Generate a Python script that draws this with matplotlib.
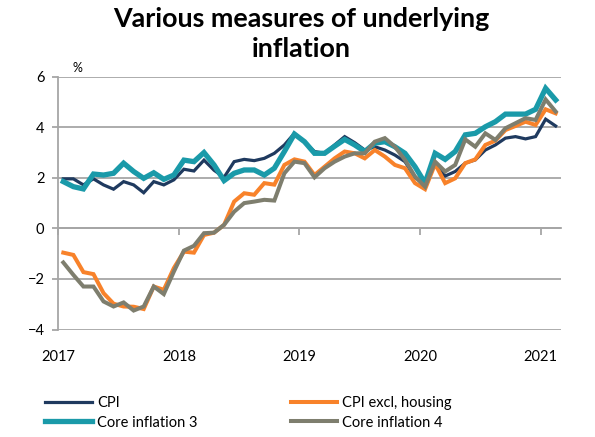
import numpy as np
import matplotlib
matplotlib.use("Agg")
import matplotlib.pyplot as plt

plt.rcParams['font.family'] = ['Lato', 'DejaVu Sans']

# monthly, Jan 2017 - Feb 2021 (%)
cpi = [1.96, 1.96, 1.72, 1.96, 1.72, 1.55, 1.85, 1.72, 1.41, 1.85, 1.72, 1.92,
       2.34, 2.27, 2.70, 2.30, 2.02, 2.64, 2.73, 2.68, 2.77, 2.97, 3.30, 3.76,
       3.40, 3.04, 2.97, 3.30, 3.63, 3.39, 3.10, 3.23, 3.10, 2.90, 2.64, 2.02,
       1.72, 2.58, 2.07, 2.25, 2.58, 2.71, 3.10, 3.30, 3.57, 3.63, 3.54, 3.63,
       4.32, 4.05]
cpi_excl_housing = [-0.96, -1.05, -1.73, -1.81, -2.56, -2.98, -3.09, -3.10, -3.19, -2.30, -2.43, -1.57,
                    -0.92, -0.96, -0.26, -0.17, 0.14, 1.06, 1.39, 1.33, 1.79, 1.73, 2.51, 2.73,
                    2.64, 2.11, 2.44, 2.77, 3.04, 2.97, 2.77, 3.10, 2.84, 2.51, 2.38, 1.79,
                    1.55, 2.55, 1.79, 1.98, 2.58, 2.73, 3.30, 3.47, 3.89, 4.05, 4.22, 4.09,
                    4.71, 4.55]
core3 = [1.85, 1.65, 1.56, 2.15, 2.11, 2.18, 2.58, 2.25, 1.98, 2.20, 1.94, 2.11,
         2.70, 2.64, 3.00, 2.51, 1.89, 2.18, 2.31, 2.31, 2.11, 2.38, 3.04, 3.73,
         3.43, 2.97, 2.97, 3.25, 3.52, 3.30, 3.04, 3.37, 3.43, 3.23, 2.97, 2.44,
         1.79, 2.97, 2.73, 3.04, 3.70, 3.76, 4.02, 4.22, 4.52, 4.52, 4.52, 4.71,
         5.54, 5.08]
core4 = [-1.35, -1.84, -2.30, -2.30, -2.89, -3.09, -2.93, -3.25, -3.09, -2.30, -2.60, -1.71,
         -0.88, -0.69, -0.19, -0.17, 0.14, 0.66, 1.00, 1.06, 1.13, 1.10, 2.18, 2.64,
         2.58, 2.02, 2.38, 2.64, 2.84, 2.97, 2.97, 3.43, 3.57, 3.23, 2.71, 2.05,
         1.65, 2.64, 2.25, 2.51, 3.52, 3.23, 3.76, 3.50, 3.96, 4.16, 4.36, 4.29,
         5.10, 4.62]
years = ['2017', '2018', '2019', '2020', '2021']

x = np.arange(len(cpi)) + 0.5
grid_col = '#a6a6a6'

fig = plt.figure(figsize=(5.95, 4.37), dpi=100)
ax = fig.add_axes([58.3 / 595, 1 - 329.5 / 437, (560.7 - 58.3) / 595, (329.5 - 76.7) / 437])

ax.plot(x, cpi, color='#1f3a5f', lw=2.3, label='CPI', solid_joinstyle='miter')
ax.plot(x, cpi_excl_housing, color='#f8822a', lw=2.9, label='CPI excl, housing', solid_joinstyle='miter')
ax.plot(x, core3, color='#1a9aa9', lw=3.8, label='Core inflation 3', solid_joinstyle='miter')
ax.plot(x, core4, color='#7e7e6e', lw=2.9, label='Core inflation 4', solid_joinstyle='miter')

ax.set_xlim(0, len(cpi))
ax.set_ylim(-4, 6)
ax.set_yticks(np.arange(-4, 7, 2))
ax.yaxis.grid(True, color=grid_col, lw=1.3)
ax.set_axisbelow(True)
for s in ['top', 'right', 'bottom']:
    ax.spines[s].set_visible(False)
ax.spines['left'].set_color(grid_col)
ax.spines['left'].set_linewidth(1.3)
ax.tick_params(axis='y', length=4, width=1.3, color=grid_col, pad=6, labelsize=10.5)
ax.set_xticks(np.arange(0, len(cpi), 12))
ax.set_xticklabels(years)
ax.tick_params(axis='x', length=0, pad=15, labelsize=10.5)

# horizontal axis drawn through zero, with its tick marks
sec = ax.secondary_xaxis(0.4)
sec.set_xticks(np.arange(0, len(cpi), 12))
sec.set_xticklabels([])
sec.spines['bottom'].set_color(grid_col)
sec.spines['bottom'].set_linewidth(1.3)
sec.tick_params(axis='x', length=5, width=1.3, color=grid_col)

fig.text(77 / 595, 1 - 68 / 437, '%', fontsize=9, ha='center', va='center')
fig.text(301 / 595, 1 - 34 / 437, 'Various measures of underlying\ninflation', fontsize=19.4,
         fontweight='bold', ha='center', va='center', linespacing=1.3)

h, l = ax.get_legend_handles_labels()
order = [0, 2, 1, 3]
fig.legend([h[i] for i in order], [l[i] for i in order], ncol=2, frameon=False,
           loc='center left', bbox_to_anchor=(45 / 595, 1 - 413 / 437),
           fontsize=10.5, handlelength=3.2, handletextpad=0.35, columnspacing=6.4,
           labelspacing=0.35, borderpad=0, borderaxespad=0)

fig.savefig('out.png', dpi=100)
